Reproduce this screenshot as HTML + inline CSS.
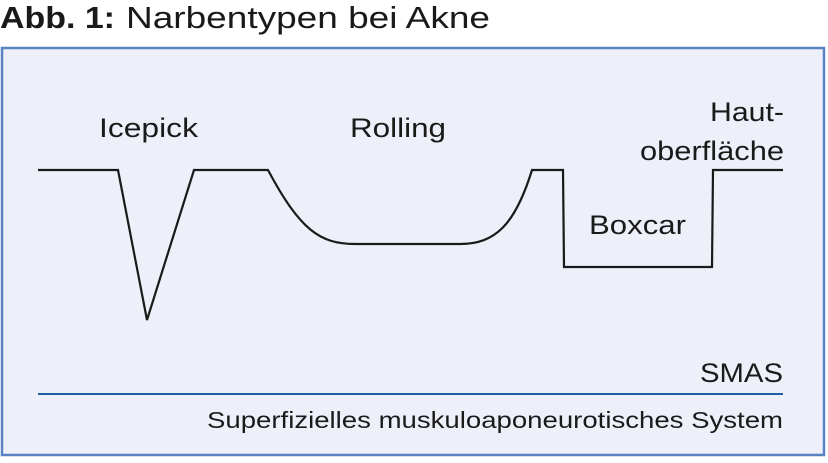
<!DOCTYPE html>
<html><head><meta charset="utf-8"><style>
html,body{margin:0;padding:0;background:#fff;}
body{width:828px;height:458px;overflow:hidden;}
</style></head><body>
<svg width="828" height="458" viewBox="0 0 828 458" xmlns="http://www.w3.org/2000/svg" font-family="'Liberation Sans', sans-serif">
<text x="0" y="28" font-size="31" font-weight="bold" fill="#1a1a1a" textLength="115" lengthAdjust="spacingAndGlyphs">Abb. 1:</text>
<text x="126" y="28" font-size="31" fill="#1a1a1a" textLength="364" lengthAdjust="spacingAndGlyphs">Narbentypen bei Akne</text>
<rect x="2" y="48" width="822" height="407" fill="#eef0f9" stroke="#5b82c2" stroke-width="2.5"/>
<path d="M38 170 L118 170 L147 320 L194 170 L268 170 C300 230 320 244 355 244 L460 244 C495 244 515 225 532 170 L563 170 L564 267 L712 267 L713 170 L783 170" fill="none" stroke="#1a1a1a" stroke-width="2.2"/>
<g font-size="27" fill="#1a1a1a" lengthAdjust="spacingAndGlyphs">
<text x="99" y="137" textLength="99" lengthAdjust="spacingAndGlyphs">Icepick</text>
<text x="350" y="137" textLength="96" lengthAdjust="spacingAndGlyphs">Rolling</text>
<text x="589" y="234" textLength="97" lengthAdjust="spacingAndGlyphs">Boxcar</text>
<text x="710" y="121" textLength="74" lengthAdjust="spacingAndGlyphs">Haut-</text>
<text x="640" y="160" textLength="144" lengthAdjust="spacingAndGlyphs">oberfläche</text>
<text x="700" y="382" textLength="83" lengthAdjust="spacingAndGlyphs">SMAS</text>
</g>
<line x1="38" y1="394" x2="783" y2="394" stroke="#1f5fa8" stroke-width="2"/>
<text x="207" y="428" font-size="23" fill="#1a1a1a" textLength="576" lengthAdjust="spacingAndGlyphs">Superfizielles muskuloaponeurotisches System</text>
</svg>
</body></html>
